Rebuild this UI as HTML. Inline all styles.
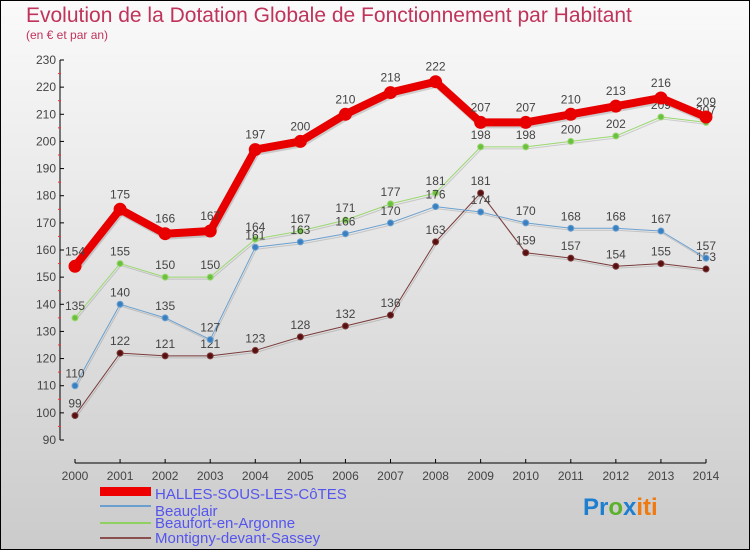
<!DOCTYPE html>
<html><head><meta charset="utf-8"><style>
body{margin:0;width:750px;height:550px;overflow:hidden;font-family:"Liberation Sans",sans-serif;}
</style></head><body>
<svg id="c" width="750" height="550" xmlns="http://www.w3.org/2000/svg">
<defs><linearGradient id="bg" x1="0" y1="0" x2="0" y2="1"><stop offset="0" stop-color="#fafafa"/><stop offset="1" stop-color="#cbcbcb"/></linearGradient></defs>
<rect x="0.5" y="0.5" width="749" height="549" fill="url(#bg)" stroke="#000"/>
<text x="26" y="22" font-size="21" fill="#c0335a">Evolution de la Dotation Globale de Fonctionnement par Habitant</text>
<text x="26" y="39" font-size="12" fill="#c0335a">(en € et par an)</text>
<g id="axes"></g><g id="series"></g>
<g>
<rect x="100" y="487" width="51" height="9" fill="#e00"/>
<text x="155" y="499" font-size="15" fill="#55e">HALLES-SOUS-LES-CôTES</text>
<rect x="100" y="505" width="51" height="2" fill="#6a9fd0"/>
<text x="155" y="516" font-size="15" fill="#55e">Beauclair</text>
<rect x="100" y="522" width="51" height="2" fill="#8fd060"/>
<text x="155" y="528" font-size="15" fill="#55e">Beaufort-en-Argonne</text>
<rect x="100" y="537" width="51" height="2" fill="#8a5050"/>
<text x="155" y="543" font-size="15" fill="#55e">Montigny-devant-Sassey</text>
</g>
<text x="583" y="515" font-size="24" font-weight="bold"><tspan fill="#1e7fd0">Pr</tspan><tspan fill="#5bb02c">o</tspan><tspan fill="#1e7fd0">x</tspan><tspan fill="#f07a10">iti</tspan></text>
</svg>
<script>
const years=[2000,2001,2002,2003,2004,2005,2006,2007,2008,2009,2010,2011,2012,2013,2014];
const halles=[154,175,166,167,197,200,210,218,222,207,207,210,213,216,209];
const beauclair=[110,140,135,127,161,163,166,170,176,174,170,168,168,167,157];
const beaufort=[135,155,150,150,164,167,171,177,181,198,198,200,202,209,207];
const montigny=[99,122,121,121,123,128,132,136,163,181,159,157,154,155,153];
const yTicks=[90,100,110,120,130,140,150,160,170,180,190,200,210,220,230];
const NS="http://www.w3.org/2000/svg";
const X=i=>75+i*(631/14);
const Y=v=>440-(v-90)*380/140;
function mk(t,a,p){const e=document.createElementNS(NS,t);for(const k in a)e.setAttribute(k,a[k]);p.appendChild(e);return e;}
const ax=document.getElementById('axes');
let l=mk('line',{x1:60,y1:60,x2:60,y2:440,stroke:'#000'},ax);


yTicks.forEach(v=>{
 mk('line',{x1:60,y1:Y(v),x2:64,y2:Y(v),stroke:'#000'},ax);
 if(v<230) mk('line',{x1:58,y1:Y(v+5),x2:61,y2:Y(v+5),stroke:'#e33'},ax);
 const t=mk('text',{x:56,y:Y(v)+4,'font-size':12,fill:'#444','text-anchor':'end'},ax);t.textContent=v;
 
 
});
l=mk('line',{x1:75,y1:463,x2:706,y2:463,stroke:'#000'},ax);


years.forEach((y,i)=>{
 mk('line',{x1:X(i),y1:459,x2:X(i),y2:463,stroke:'#000'},ax);
 const t=mk('text',{x:X(i),y:480,'font-size':12,fill:'#444','text-anchor':'middle'},ax);t.textContent=y;
 
 
});
const sg=document.getElementById('series');
function draw(d,name,col,w,r,dot){
 const g=mk('g',{},sg);
 
 
 const pts=d.map((v,i)=>X(i)+','+Y(v)).join(' ');
 mk('polyline',{points:pts,fill:'none',stroke:'rgba(0,0,0,0.15)','stroke-width':w,transform:'translate(1,2)','stroke-linejoin':'round'},g);
 mk('polyline',{points:pts,fill:'none',stroke:col,'stroke-width':w,'stroke-linejoin':'round'},g);
 d.forEach((v,i)=>{
  const c=mk('circle',{cx:X(i),cy:Y(v),r:r,fill:dot,stroke:col,'stroke-width':1},g);
  
  
  const t=mk('text',{x:X(i),y:Y(v)-(r+5),'font-size':12,fill:'#444','text-anchor':'middle'},g);t.textContent=v;
  
  
 });
}
draw(montigny,'montigny','#7a3a3a',1,3,'#5a1010');
draw(beaufort,'beaufort','#9ad870',1,3,'#6cc040');
draw(beauclair,'beauclair','#6aa0d0',1,3,'#3a80c0');
draw(halles,'halles','#e80000',8,6,'#e80000');
</script>
</body></html>
